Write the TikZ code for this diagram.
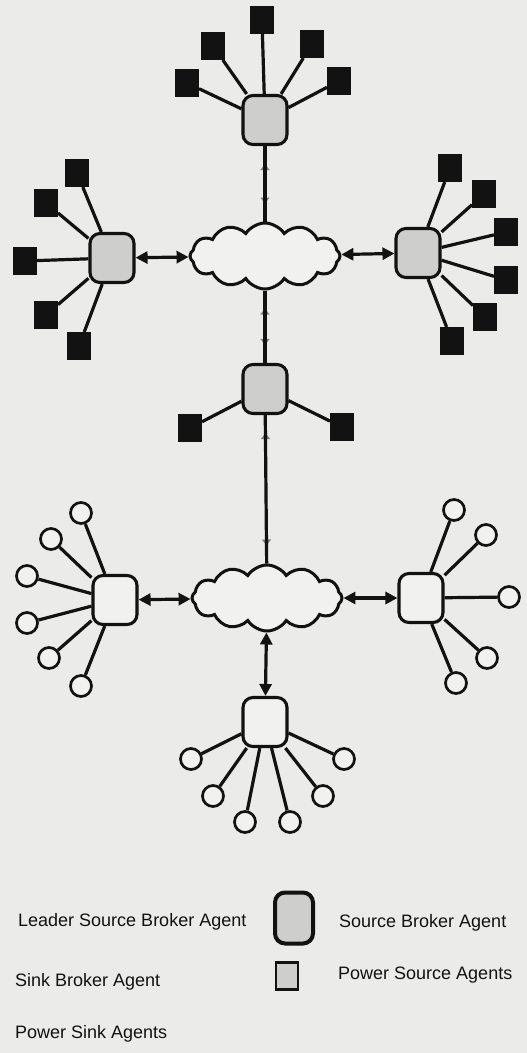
\documentclass[tikz,border=0pt]{standalone}
\usepackage{fontspec}
\setmainfont{Liberation Sans}
\usetikzlibrary{shapes.symbols,arrows.meta,decorations.markings}

\definecolor{paper}{RGB}{235,235,233}
\definecolor{ink}{RGB}{18,18,18}
\definecolor{shade}{RGB}{206,206,204}
\definecolor{pale}{RGB}{241,241,239}

\tikzset{
  wire/.style={draw=ink, line width=3.2pt},
  srcbroker/.style={draw=ink, fill=shade, line width=3.1pt, rounded corners=10pt,
    minimum width=44pt, minimum height=49pt, inner sep=0pt},
  sinkbroker/.style={srcbroker, fill=pale},
  srcagent/.style={draw=ink, fill=ink, line width=1pt,
    minimum width=23pt, minimum height=27pt, inner sep=0pt},
  sinkagent/.style={circle, draw=ink, fill=pale, line width=2.7pt,
    minimum size=21pt, inner sep=0pt},
  net/.style={cloud, cloud puffs=12, cloud puff arc=115, cloud ignores aspect,
    draw=ink, fill=pale, line width=3pt,
    minimum width=150pt, minimum height=66pt, inner sep=0pt},
  link/.style={wire, {Triangle[length=12pt,width=12pt]}-{Triangle[length=12pt,width=12pt]}},
  trunk/.style={wire, preaction={decorate, decoration={markings,
    mark=at position 18pt with {\arrowreversed{Triangle[length=6pt,width=9pt,color=gray]}},
    mark=at position -18pt with {\arrow{Triangle[length=6pt,width=9pt,color=gray]}}}}},
  legend/.style={anchor=base west, font=\fontsize{18}{20}\selectfont, text=ink, inner sep=0pt},
}

\begin{document}
\begin{tikzpicture}[x=1pt, y=-1pt]
  \fill[paper] (0,0) rectangle (527,1053);
  \useasboundingbox (0,0) rectangle (527,1053);

  % networks
  \node[net] (up) at (265,256) {};
  \node[net] (low) at (267,598) {};

  % source side
  \node[srcbroker] (T) at (265,120) {};
  \node[srcagent] (t1) at (187,83) {};
  \node[srcagent] (t2) at (213,46) {};
  \node[srcagent] (t3) at (262,20) {};
  \node[srcagent] (t4) at (312,44) {};
  \node[srcagent] (t5) at (339,81) {};

  \node[srcbroker] (L) at (112,258) {};
  \node[srcagent] (l1) at (77,173) {};
  \node[srcagent] (l2) at (46,203) {};
  \node[srcagent] (l3) at (25,261) {};
  \node[srcagent] (l4) at (46,315) {};
  \node[srcagent] (l5) at (79,346) {};

  \node[srcbroker] (R) at (418,253) {};
  \node[srcagent] (r1) at (450,168) {};
  \node[srcagent] (r2) at (484,194) {};
  \node[srcagent] (r3) at (506,232) {};
  \node[srcagent] (r4) at (506,280) {};
  \node[srcagent] (r5) at (485,317) {};
  \node[srcagent] (r6) at (452,341) {};

  \node[srcbroker] (M) at (265,389) {};
  \node[srcagent] (m1) at (190,428) {};
  \node[srcagent] (m2) at (342,427) {};

  % sink side
  \node[sinkbroker] (LL) at (115,600) {};
  \node[sinkagent] (a1) at (81,513) {};
  \node[sinkagent] (a2) at (51,539) {};
  \node[sinkagent] (a3) at (27,576) {};
  \node[sinkagent] (a4) at (27,623) {};
  \node[sinkagent] (a5) at (49,658) {};
  \node[sinkagent] (a6) at (81,686) {};

  \node[sinkbroker] (LR) at (421,598) {};
  \node[sinkagent] (b1) at (454,510) {};
  \node[sinkagent] (b2) at (486,535) {};
  \node[sinkagent] (b3) at (509,597) {};
  \node[sinkagent] (b4) at (487,658) {};
  \node[sinkagent] (b5) at (456,683) {};

  \node[sinkbroker] (B) at (265,722) {};
  \node[sinkagent] (c1) at (191,759) {};
  \node[sinkagent] (c2) at (213,796) {};
  \node[sinkagent] (c3) at (245,822) {};
  \node[sinkagent] (c4) at (290,822) {};
  \node[sinkagent] (c5) at (323,796) {};
  \node[sinkagent] (c6) at (344,759) {};

  % spokes
  \foreach \n in {t1,t2,t3,t4,t5} \draw[wire] (T) -- (\n);
  \foreach \n in {l1,l2,l3,l4,l5} \draw[wire] (L) -- (\n);
  \foreach \n in {r1,r2,r3,r4,r5,r6} \draw[wire] (R) -- (\n);
  \foreach \n in {m1,m2} \draw[wire] (M) -- (\n);
  \foreach \n in {a1,a2,a3,a4,a5,a6} \draw[wire] (LL) -- (\n);
  \foreach \n in {b1,b2,b3,b4,b5} \draw[wire] (LR) -- (\n);
  \foreach \n in {c1,c2,c3,c4,c5,c6} \draw[wire] (B) -- (\n);

  % backbone
  \draw[trunk] (T) -- (up);
  \draw[trunk] (up) -- (M);
  \draw[trunk] (M) -- (low);

  % broker links
  \draw[link] (L) -- (up);
  \draw[link] (up) -- (R);
  \draw[link] (LL) -- (low);
  \draw[link] (low) -- (LR);
  \draw[link] (low) -- (B);

  % key
  \node[legend] (k1) at (18,926) {Leader Source Broker Agent};
  \node[srcbroker, line width=4pt, minimum width=38pt, minimum height=51pt] (k2) at (294,918) {};
  \node[legend] (k3) at (339,927) {Source Broker Agent};
  \node[legend] (k4) at (15,986) {Sink Broker Agent};
  \node[srcagent, fill=shade, line width=2.6pt, minimum width=22pt, minimum height=27pt] (k5) at (287,976) {};
  \node[legend] (k6) at (338,979) {Power Source Agents};
  \node[legend] (k7) at (15,1038) {Power Sink Agents};
\end{tikzpicture}
\end{document}
